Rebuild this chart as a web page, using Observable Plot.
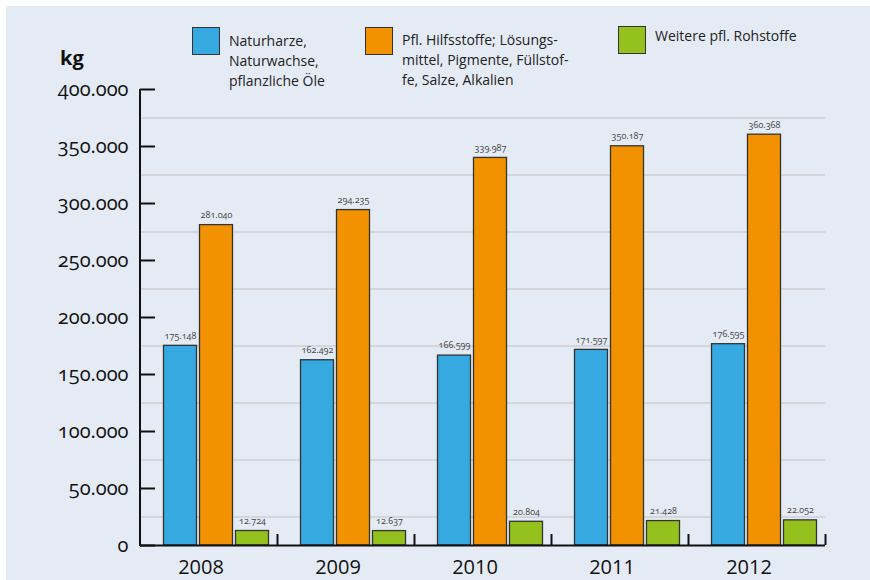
<!DOCTYPE html>
<html><head><meta charset="utf-8">
<script src="https://cdn.jsdelivr.net/npm/d3@7"></script>
<script src="https://cdn.jsdelivr.net/npm/@observablehq/plot@0.6"></script>
<style>
html,body{margin:0;padding:0;background:#fff;}
#wrap{position:absolute;left:6px;top:6px;width:864px;height:574px;background:#e5ebf5;font-family:"Open Sans",sans-serif;color:#222;}
#head{position:relative;height:64px;}
.unit{position:absolute;left:54px;top:40px;font-weight:bold;font-size:20px;line-height:24px;color:#111;}
.item{position:absolute;display:flex;align-items:flex-start;}
.sw{width:28px;height:28px;border:1px solid #333;box-sizing:border-box;margin-right:9px;flex:none;}
.lab{font-size:14px;line-height:20px;white-space:nowrap;}
#chart svg{display:block;}
</style>
</head><body>
<div id="wrap">
  <div id="head"></div>
  <div id="chart"></div>
</div>
<script>
const years = ["2008", "2009", "2010", "2011", "2012"];
const naturharze = [175148, 162492, 166599, 171597, 176595];
const hilfsstoffe = [281040, 294235, 339987, 350187, 360368];
const weitere = [12724, 12637, 20804, 21428, 22052];
const seriesNames = ["Naturharze", "Hilfsstoffe", "Weitere"];
const legendLines = [
  ["Naturharze,", "Naturwachse,", "pflanzliche Öle"],
  ["Pfl. Hilfsstoffe; Lösungs-", "mittel, Pigmente, Füllstof-", "fe, Salze, Alkalien"],
  ["Weitere pfl. Rohstoffe"]
];
const seriesColors = ["#36a9e1", "#f39200", "#95c11f"];
const unitLabel = "kg";
const yTicks = [0, 50000, 100000, 150000, 200000, 250000, 300000, 350000, 400000];
const gridValues = [25000, 75000, 125000, 175000, 225000, 275000, 325000, 375000];

const seriesValues = [naturharze, hilfsstoffe, weitere];
const rows = years.flatMap((yr, i) => seriesNames.map((s, j) => ({year: yr, series: s, value: seriesValues[j][i]})));

const de = d3.formatLocale({decimal: ",", thousands: ".", grouping: [3], currency: ["", "€"]});
const fmt = de.format(",d");

// header: unit + legend
const head = d3.select("#head");
head.append("div").attr("class", "unit").text(unitLabel);
const legendPos = [{left: 186, top: 21, mt: 4}, {left: 359, top: 21, mt: 3}, {left: 612, top: 20, mt: 0}];
seriesNames.forEach((s, j) => {
  const it = head.append("div").attr("class", "item").style("left", legendPos[j].left + "px").style("top", legendPos[j].top + "px");
  it.append("div").attr("class", "sw").style("background", seriesColors[j]);
  it.append("div").attr("class", "lab").style("margin-top", legendPos[j].mt + "px").html(legendLines[j].join("<br>"));
});

const plot = Plot.plot({
  width: 864, height: 510,
  marginLeft: 134, marginRight: 45, marginTop: 19, marginBottom: 35,
  style: {background: "transparent", fontFamily: "Open Sans, sans-serif", color: "#111", overflow: "visible"},
  fx: {domain: years, padding: 0, label: null},
  x: {domain: seriesNames, paddingInner: 0.096, paddingOuter: 0.4245, axis: null},
  y: {domain: [0, 400000], label: null},
  color: {domain: seriesNames, range: seriesColors},
  marks: [
    Plot.ruleY(gridValues, {stroke: "#d4d6da", strokeWidth: 2}),
    Plot.barY(rows, {fx: "year", x: "series", y: "value", fill: "series", stroke: "#333", strokeWidth: 1.3, dx: 7.5}),
    Plot.text(rows, {fx: "year", x: "series", y: "value", text: d => fmt(d.value), dx: 7.5, dy: -10, fontSize: 9, fill: "#444", fontVariant: "oldstyle-nums"}),
    Plot.ruleY([0], {stroke: "#111", strokeWidth: 2}),
    Plot.axisY(yTicks, {tickSize: 0, tickPadding: 12, tickFormat: fmt, fontSize: 20, fontVariant: "oldstyle-nums", label: null}),
    Plot.axisY(yTicks, {tickSize: -15, strokeWidth: 2, fill: "none", label: null}),
    Plot.axisFx({anchor: "bottom", tickSize: 0, tickPadding: 14, fontSize: 20, dx: -8, label: null}),
    Plot.axisFx({anchor: "bottom", tickSize: -11, strokeWidth: 2, dx: 68.5, fill: "none", label: null})
  ]
});

// vertical y-axis line, positioned with the plot's own scales
const fxs = plot.scale("fx"), ys = plot.scale("y");
d3.select(plot).append("line")
  .attr("x1", fxs.apply(years[0])).attr("x2", fxs.apply(years[0]))
  .attr("y1", ys.apply(400000)).attr("y2", ys.apply(0) + 1)
  .attr("stroke", "#111").attr("stroke-width", 2);

document.getElementById("chart").appendChild(plot);
</script>
</body></html>
